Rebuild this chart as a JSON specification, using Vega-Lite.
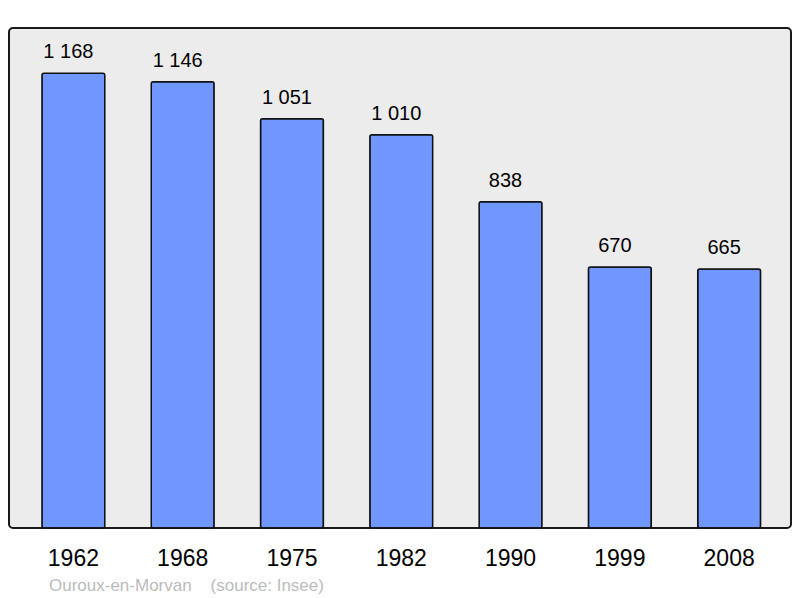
{
  "$schema": "https://vega.github.io/schema/vega-lite/v6.json",
  "width": 782,
  "height": 500,
  "autosize": "none",
  "padding": {"left": 9, "top": 28, "right": 9, "bottom": 70},
  "background": "#ffffff",
  "config": {
    "font": "Liberation Sans",
    "locale": {"number": {"decimal": ",", "thousands": " ", "grouping": [3], "currency": ["", " €"]}},
    "view": {"fill": "#ececec", "stroke": "#1a1a1a", "strokeWidth": 2, "cornerRadius": 4}
  },
  "title": {
    "text": "Ouroux-en-Morvan\u00a0\u00a0\u00a0\u00a0(source: Insee)",
    "orient": "bottom",
    "anchor": "start",
    "frame": "bounds",
    "dx": 40,
    "offset": 8,
    "fontSize": 17,
    "fontWeight": "normal",
    "color": "#bbbbbb",
    "font": "Liberation Sans"
  },
  "data": {
    "values": [
      {"year": "1962", "pop": 1168},
      {"year": "1968", "pop": 1146},
      {"year": "1975", "pop": 1051},
      {"year": "1982", "pop": 1010},
      {"year": "1990", "pop": 838},
      {"year": "1999", "pop": 670},
      {"year": "2008", "pop": 665}
    ]
  },
  "encoding": {
    "x": {
      "field": "year",
      "type": "ordinal",
      "sort": null,
      "scale": {"paddingInner": 0.425, "paddingOuter": 0.29, "align": 0.52},
      "axis": {
        "title": null,
        "domain": false,
        "ticks": false,
        "tickSize": 0,
        "labelPadding": 37,
        "labelBaseline": "alphabetic",
        "labelAngle": 0,
        "labelFontSize": 23,
        "labelColor": "#000000",
        "labelFont": "Liberation Sans"
      }
    },
    "y": {
      "field": "pop",
      "type": "quantitative",
      "scale": {"domain": [0, 1284], "nice": false, "zero": true},
      "axis": null
    }
  },
  "layer": [
    {
      "mark": {"type": "bar", "fill": "#7097ff", "stroke": "#111111", "strokeWidth": 1.5, "cornerRadius": 2}
    },
    {
      "mark": {"type": "text", "baseline": "alphabetic", "align": "center", "dx": -5, "dy": -15, "fontSize": 20, "color": "#000000", "font": "Liberation Sans"},
      "encoding": {"text": {"field": "pop", "type": "quantitative", "format": ",d"}}
    }
  ]
}
